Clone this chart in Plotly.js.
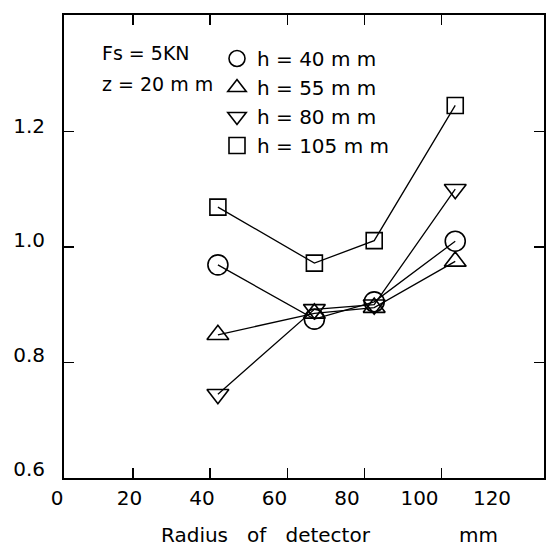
<!DOCTYPE html>
<html>
<head>
<meta charset="utf-8">
<script src="https://cdn.plot.ly/plotly-3.0.1.min.js"></script>
<style>html,body{margin:0;padding:0;background:#fff;}#chart{width:554px;height:547px;}</style>
</head>
<body>
<div id="chart"></div>
<script>
// ---- data ----
var radius = [42, 67, 82.5, 103.5];
var h40  = [0.969, 0.875, 0.905, 1.010];
var h55  = [0.848, 0.885, 0.895, 0.975];
var h80  = [0.745, 0.892, 0.900, 1.100];
var h105 = [1.069, 0.972, 1.011, 1.245];
var seriesNames = ['h = 40 m m', 'h = 55 m m', 'h = 80 m m', 'h = 105 m m'];
var xTickVals = [0, 20, 40, 60, 80, 100, 120];
var xTickText = ['0', '20', '40', '60', '80', '100', '120'];
var yTickVals = [0.6, 0.8, 1.0, 1.2];
var yTickText = ['0.6', '0.8', '1.0', '1.2'];
var noteLines = ['Fs = 5KN', 'z = 20 m m'];
var NB = '\u00a0';
function sp(n) { return new Array(n + 1).join(NB); }
var xTitle = '\u200b' + sp(8) + 'Radius' + sp(3) + 'of' + sp(3) + 'detector' + sp(14) + 'mm';

// ---- styling ----
var FONT = 'DejaVu Sans, sans-serif';
var FS = 20;
var W = 554, H = 547;
function fx(px) { return px / W; }
function fy(px) { return 1 - px / H; }

var seriesY = [h40, h55, h80, h105];
var symbols = ['circle-open', 'triangle-up-open', 'triangle-down-open', 'square-open'];
var sizes = [20, 19, 19, 16];

var traces = [];
seriesY.forEach(function (ys, i) {
  traces.push({
    x: radius, y: ys, type: 'scatter', mode: 'lines',
    line: {color: '#000', width: 1.3},
    showlegend: false, hoverinfo: 'skip'
  });
});
seriesY.forEach(function (ys, i) {
  traces.push({
    x: radius, y: ys, type: 'scatter', mode: 'markers', name: seriesNames[i],
    marker: {symbol: symbols[i], size: sizes[i], color: '#000', line: {color: '#000', width: 1.6}}
  });
});
// empty helper traces so the label-only axes get their subplots
traces.push({x: [null], y: [null], xaxis: 'x2', yaxis: 'y', type: 'scatter', mode: 'markers',
             showlegend: false, hoverinfo: 'skip'});
traces.push({x: [null], y: [null], xaxis: 'x', yaxis: 'y2', type: 'scatter', mode: 'markers',
             showlegend: false, hoverinfo: 'skip'});

var layout = {
  width: W, height: H,
  margin: {l: 0, r: 0, t: 0, b: 0},
  paper_bgcolor: '#fff', plot_bgcolor: 'rgba(0,0,0,0)',
  font: {family: FONT, size: FS, color: '#000'},
  showlegend: true,
  legend: {
    x: fx(217), y: fy(39), xanchor: 'left', yanchor: 'top',
    bgcolor: 'rgba(0,0,0,0)', borderwidth: 0, tracegroupgap: 0,
    font: {family: FONT, size: FS, color: '#000'},
    itemclick: false, itemdoubleclick: false
  },
  xaxis: {
    domain: [fx(64), fx(544)], range: [2.12, 126.5], anchor: 'y',
    showline: true, linecolor: '#000', linewidth: 1.8, mirror: 'ticks',
    ticks: 'inside', ticklen: 10, tickwidth: 1.5, tickcolor: '#000',
    tickmode: 'array', tickvals: xTickVals.slice(1, 6),
    showticklabels: false, showgrid: false, zeroline: false,
    title: {text: xTitle, font: {family: FONT, size: FS, color: '#000'}, standoff: 50}
  },
  yaxis: {
    domain: [fy(478), fy(15)], range: [0.6, 1.4016], anchor: 'x',
    showline: true, linecolor: '#000', linewidth: 1.8, mirror: 'ticks',
    ticks: 'inside', ticklen: 10, tickwidth: 1.5, tickcolor: '#000',
    tickmode: 'array', tickvals: yTickVals.slice(1),
    showticklabels: false, showgrid: false, zeroline: false
  },
  xaxis2: {
    visible: true,
    domain: [fx(57), fx(492)], range: [0, 120], anchor: 'y',
    showline: false, ticks: '', showgrid: false, zeroline: false,
    tickmode: 'array', tickvals: xTickVals, ticktext: xTickText,
    ticklabelstandoff: 6,
    tickfont: {family: FONT, size: FS, color: '#000'}
  },
  yaxis2: {
    visible: true,
    domain: [fy(469), fy(126)], range: [0.6, 1.2], anchor: 'x',
    showline: false, ticks: '', showgrid: false, zeroline: false,
    tickmode: 'array', tickvals: yTickVals, ticktext: yTickText,
    ticklabelstandoff: 18,
    tickfont: {family: FONT, size: FS, color: '#000'}
  },
  annotations: [
    {xref: 'paper', yref: 'paper', x: fx(100), y: fy(53), xanchor: 'left', yanchor: 'middle',
     text: noteLines[0], showarrow: false, font: {family: FONT, size: 19, color: '#000'}},
    {xref: 'paper', yref: 'paper', x: fx(100), y: fy(84), xanchor: 'left', yanchor: 'middle',
     text: noteLines[1], showarrow: false, font: {family: FONT, size: 19, color: '#000'}}
  ]
};

Plotly.newPlot('chart', traces, layout, {staticPlot: true, displayModeBar: false});
</script>
</body>
</html>
